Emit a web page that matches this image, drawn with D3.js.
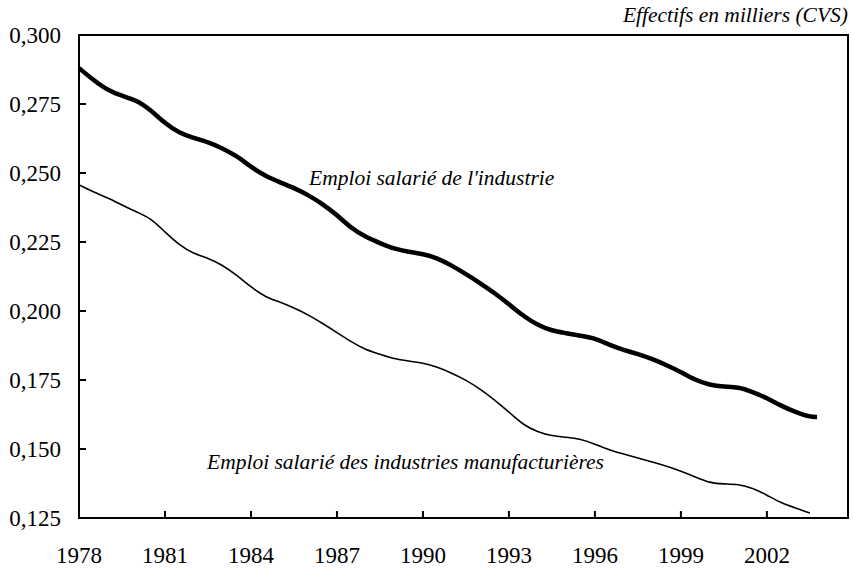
<!DOCTYPE html>
<html>
<head>
<meta charset="utf-8">
<script src="https://cdn.jsdelivr.net/npm/d3@7"></script>
<style>
body { margin: 0; background: #fff; }
text { font-family: "Liberation Serif", "Times New Roman", serif; }
</style>
</head>
<body>
<script>
// half-year points
var years = [1978, 1978.5, 1979, 1979.5, 1980, 1980.5, 1981, 1981.5, 1982, 1982.5, 1983, 1983.5, 1984, 1984.5, 1985, 1985.5,
  1986, 1986.5, 1987, 1987.5, 1988, 1988.5, 1989, 1989.5, 1990, 1990.5, 1991, 1991.5, 1992, 1992.5,
  1993, 1993.5, 1994, 1994.5, 1995, 1995.5, 1996, 1996.5, 1997, 1997.5, 1998, 1998.5, 1999, 1999.5,
  2000, 2000.5, 2001, 2001.5, 2002, 2002.5, 2003, 2003.5];

var industrie = [0.288, 0.2837, 0.280, 0.2779, 0.2764, 0.2728, 0.268, 0.2645, 0.2627, 0.2612, 0.259, 0.2562, 0.2522, 0.2489,
  0.2467, 0.2446, 0.242, 0.2388, 0.2348, 0.230, 0.2268, 0.2246, 0.2225, 0.2214, 0.2207, 0.2192, 0.2165,
  0.2134, 0.2101, 0.2065, 0.2025, 0.1982, 0.1949, 0.1928, 0.192, 0.191, 0.1902, 0.1877, 0.1859, 0.1844,
  0.1826, 0.1804, 0.1779, 0.175, 0.1732, 0.1725, 0.1725, 0.1707, 0.1685, 0.1656, 0.1634, 0.1616];
var industrieEnd = {year: 2003.75, value: 0.1616};

var manuf = [0.2457, 0.2431, 0.241, 0.2384, 0.2359, 0.2337, 0.2286, 0.2239, 0.2207, 0.2192, 0.2167, 0.213, 0.2087, 0.205,
  0.2033, 0.2011, 0.1986, 0.1955, 0.1922, 0.1888, 0.1859, 0.1844, 0.1826, 0.1819, 0.1812, 0.1797, 0.1775,
  0.175, 0.1717, 0.1678, 0.1634, 0.1587, 0.1562, 0.1547, 0.1543, 0.1536, 0.1518, 0.1496, 0.1482, 0.1467,
  0.1453, 0.1438, 0.142, 0.1399, 0.1377, 0.1373, 0.1373, 0.1359, 0.1333, 0.1304, 0.1286, 0.1268];

var xTicks = [1978, 1981, 1984, 1987, 1990, 1993, 1996, 1999, 2002];
var yTicks = [0.125, 0.150, 0.175, 0.200, 0.225, 0.250, 0.275, 0.300];

var width = 853, height = 570;
var margin = {top: 35, right: 5, bottom: 52, left: 79};

var svg = d3.select("body").append("svg")
    .attr("width", width)
    .attr("height", height);

var x = d3.scaleLinear().domain([1978, 2004.83]).range([margin.left, width - margin.right]);
var y = d3.scaleLinear().domain([0.125, 0.300]).range([height - margin.bottom, margin.top]);

var fmt = function(d) { return d3.format(".3f")(d).replace(".", ","); };

// frame
svg.append("rect")
    .attr("x", x(1978)).attr("y", y(0.300))
    .attr("width", x(2004.83) - x(1978))
    .attr("height", y(0.125) - y(0.300))
    .attr("fill", "none").attr("stroke", "#000").attr("stroke-width", 2);

// y ticks (inward)
svg.selectAll(".ytick").data(yTicks).enter().append("line")
    .attr("x1", x(1978)).attr("x2", x(1978) + 7)
    .attr("y1", d => y(d)).attr("y2", d => y(d))
    .attr("stroke", "#000").attr("stroke-width", 2);

svg.selectAll(".ylab").data(yTicks).enter().append("text")
    .attr("x", 61).attr("y", d => y(d) + 8)
    .attr("text-anchor", "end")
    .style("font-size", "23px")
    .text(fmt);

// x ticks (inward)
svg.selectAll(".xtick").data(xTicks).enter().append("line")
    .attr("x1", d => x(d)).attr("x2", d => x(d))
    .attr("y1", y(0.125)).attr("y2", y(0.125) - 7)
    .attr("stroke", "#000").attr("stroke-width", 2);

svg.selectAll(".xlab").data(xTicks).enter().append("text")
    .attr("x", d => x(d)).attr("y", 563)
    .attr("text-anchor", "middle")
    .style("font-size", "23px")
    .text(d => d);

var line = d3.line()
    .x(d => x(d.year))
    .y(d => y(d.value))
    .curve(d3.curveBasis);

var indData = years.map((yr, i) => ({year: yr, value: industrie[i]}));
indData.push(industrieEnd);
var manData = years.map((yr, i) => ({year: yr, value: manuf[i]}));

svg.append("path")
    .datum(indData)
    .attr("d", line)
    .attr("fill", "none")
    .attr("stroke", "#000")
    .attr("stroke-width", 4.5)
    .attr("stroke-linejoin", "round");

svg.append("path")
    .datum(manData)
    .attr("d", line)
    .attr("fill", "none")
    .attr("stroke", "#000")
    .attr("stroke-width", 1.6);

// labels
svg.append("text")
    .attr("x", 309).attr("y", 185)
    .style("font-size", "21.5px").style("font-style", "italic")
    .text("Emploi salarié de l'industrie");

svg.append("text")
    .attr("x", 207).attr("y", 469)
    .style("font-size", "21.5px").style("font-style", "italic")
    .text("Emploi salarié des industries manufacturières");

svg.append("text")
    .attr("x", 848).attr("y", 22)
    .attr("text-anchor", "end")
    .style("font-size", "21.5px").style("font-style", "italic")
    .text("Effectifs en milliers (CVS)");
</script>
</body>
</html>
